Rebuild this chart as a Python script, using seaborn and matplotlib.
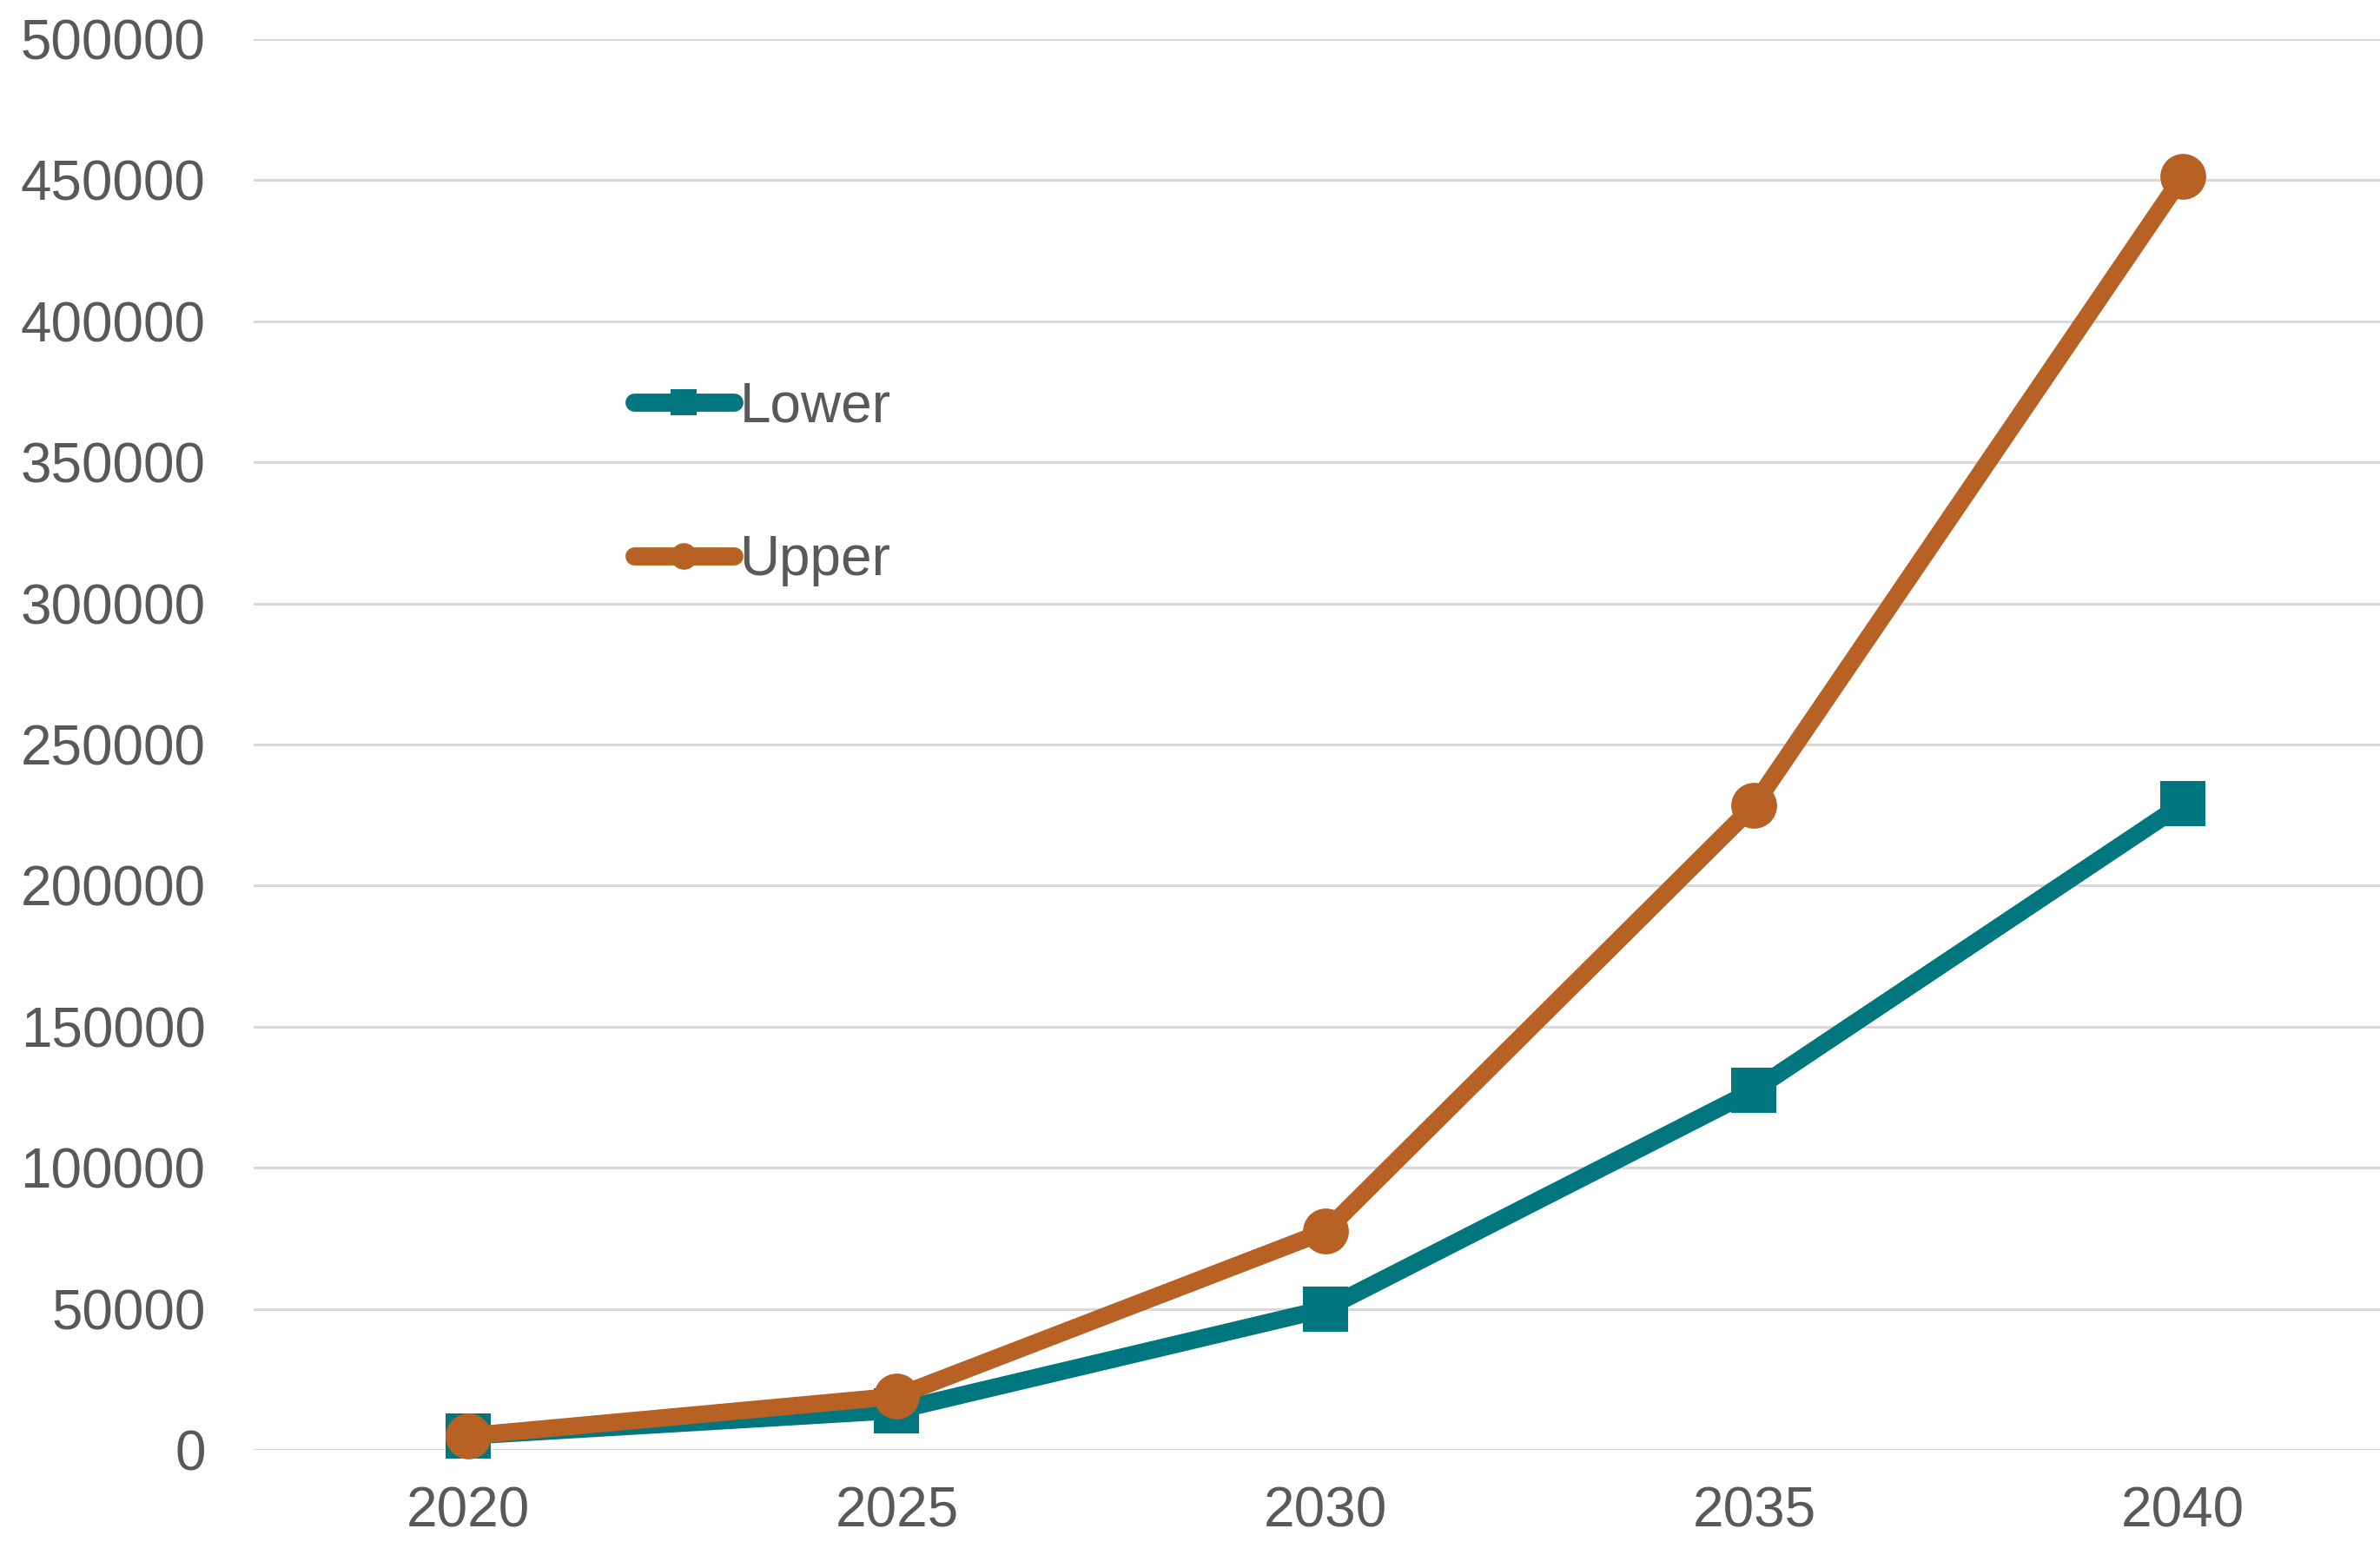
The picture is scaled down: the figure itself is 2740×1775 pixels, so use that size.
import pandas as pd
import matplotlib.pyplot as plt
import matplotlib.ticker as mticker
import seaborn as sns

# values
years = [2020, 2025, 2030, 2035, 2040]
lower = [5000, 14000, 50000, 127500, 229000]
upper = [5000, 19000, 77500, 228500, 451500]
series_names = ['Lower', 'Upper']
y_ticks = list(range(0, 500001, 50000))

df = pd.DataFrame({
    'year': years * 2,
    'value': lower + upper,
    'series': [series_names[0]] * len(years) + [series_names[1]] * len(years),
})

sns.set_theme(style='white')
plt.rcParams['font.family'] = ['Liberation Sans', 'DejaVu Sans']

text_color = '#595959'
colors = {'Lower': '#00777F', 'Upper': '#B86125'}
font_size = 46

fig = plt.figure(figsize=(27.4, 17.75), dpi=100)
ax = fig.add_axes([0.1066, 0.0597, 0.8934, 0.9149])

sns.lineplot(data=df, x='year', y='value', hue='series', style='series',
             markers={'Lower': 's', 'Upper': 'o'}, dashes=False,
             palette=colors, linewidth=14.5, markersize=38,
             markeredgewidth=0, ax=ax)

for line in ax.get_lines():
    line.set_clip_on(False)

# axes styling
ax.set_xlim(2017.5, 2042.3)
ax.set_ylim(0, 500000)
ax.set_xticks(years)
ax.set_yticks(y_ticks)
ax.yaxis.set_major_formatter(mticker.StrMethodFormatter('{x:.0f}'))
ax.grid(axis='y', color='#D9D9D9', linewidth=2.2)
ax.set_axisbelow(True)
for spine in ax.spines.values():
    spine.set_visible(False)
ax.tick_params(axis='y', length=0, pad=40, labelsize=font_size, labelcolor=text_color)
ax.tick_params(axis='x', length=0, pad=30, labelsize=font_size, labelcolor=text_color)
ax.set_xlabel('')
ax.set_ylabel('')

# legend
handles, labels = ax.get_legend_handles_labels()
leg = ax.legend(handles, labels, loc='upper left',
                bbox_to_anchor=(0.2664, 0.753), bbox_transform=fig.transFigure,
                frameon=False, fontsize=font_size, labelcolor=text_color,
                handlelength=1.8, handletextpad=0.1, labelspacing=1.83,
                borderpad=0, borderaxespad=0)
for h in leg.get_lines():
    h.set_linewidth(15)
    h.set_markersize(22)

fig.savefig('out.png', dpi=100)
